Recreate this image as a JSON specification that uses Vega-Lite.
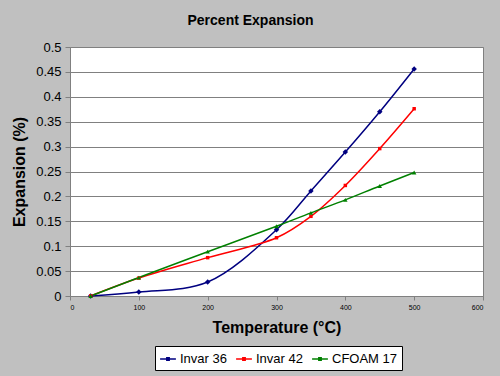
{
  "$schema": "https://vega.github.io/schema/vega-lite/v6.json",
  "width": 413,
  "height": 249,
  "autosize": {"type": "none"},
  "padding": {"left": 70, "top": 47, "right": 17, "bottom": 80},
  "background": "#c0c0c0",
  "config": {
    "font": "Liberation Sans",
    "view": {"fill": "white", "stroke": "#808080", "strokeWidth": 1}
  },
  "title": {
    "text": "Percent Expansion",
    "fontSize": 14,
    "fontWeight": "bold",
    "color": "black",
    "anchor": "middle",
    "dx": -26,
    "offset": 13
  },
  "data": {
    "values": [
      {"series": "Invar 36", "temp": 30, "exp": 0},
      {"series": "Invar 36", "temp": 100, "exp": 0.008},
      {"series": "Invar 36", "temp": 200, "exp": 0.028},
      {"series": "Invar 36", "temp": 300, "exp": 0.133},
      {"series": "Invar 36", "temp": 350, "exp": 0.211},
      {"series": "Invar 36", "temp": 400, "exp": 0.289},
      {"series": "Invar 36", "temp": 450, "exp": 0.37},
      {"series": "Invar 36", "temp": 500, "exp": 0.456},
      {"series": "Invar 42", "temp": 30, "exp": 0},
      {"series": "Invar 42", "temp": 100, "exp": 0.036},
      {"series": "Invar 42", "temp": 200, "exp": 0.077},
      {"series": "Invar 42", "temp": 300, "exp": 0.117},
      {"series": "Invar 42", "temp": 350, "exp": 0.16},
      {"series": "Invar 42", "temp": 400, "exp": 0.222},
      {"series": "Invar 42", "temp": 450, "exp": 0.296},
      {"series": "Invar 42", "temp": 500, "exp": 0.376},
      {"series": "CFOAM 17", "temp": 30, "exp": 0},
      {"series": "CFOAM 17", "temp": 100, "exp": 0.037},
      {"series": "CFOAM 17", "temp": 200, "exp": 0.089},
      {"series": "CFOAM 17", "temp": 300, "exp": 0.14},
      {"series": "CFOAM 17", "temp": 350, "exp": 0.167},
      {"series": "CFOAM 17", "temp": 400, "exp": 0.193},
      {"series": "CFOAM 17", "temp": 450, "exp": 0.221},
      {"series": "CFOAM 17", "temp": 500, "exp": 0.248}
    ]
  },
  "encoding": {
    "x": {
      "field": "temp",
      "type": "quantitative",
      "scale": {"domain": [0, 600], "nice": false},
      "axis": {
        "title": "Temperature (°C)",
        "titleFontSize": 16,
        "titleFontWeight": "bold",
        "titleColor": "black",
        "titlePadding": 9,
        "values": [0, 100, 200, 300, 400, 500, 600],
        "labelFontSize": 7,
        "labelColor": "black",
        "labelPadding": 3,
        "grid": false,
        "domainColor": "#808080",
        "tickColor": "#808080",
        "tickSize": 4
      }
    },
    "y": {
      "field": "exp",
      "type": "quantitative",
      "scale": {"domain": [0, 0.5], "nice": false},
      "axis": {
        "title": "Expansion (%)",
        "titleFontSize": 16,
        "titleFontWeight": "bold",
        "titleColor": "black",
        "titlePadding": 8,
        "values": [0, 0.05, 0.1, 0.15, 0.2, 0.25, 0.3, 0.35, 0.4, 0.45, 0.5],
        "format": ".2~f",
        "labelFontSize": 13,
        "labelColor": "black",
        "labelPadding": 4,
        "grid": true,
        "gridColor": "#808080",
        "gridWidth": 1,
        "domainColor": "#808080",
        "tickColor": "#808080",
        "tickSize": 5
      }
    }
  },
  "layer": [
    {
      "mark": {"type": "line", "interpolate": "catmull-rom", "strokeWidth": 1.5},
      "encoding": {
        "color": {
          "field": "series",
          "type": "nominal",
          "sort": ["Invar 36", "Invar 42", "CFOAM 17"],
          "scale": {"domain": ["Invar 36", "Invar 42", "CFOAM 17"], "range": ["#000080", "#ff0000", "#008000"]},
          "legend": {
            "title": null,
            "orient": "none",
            "legendX": 85,
            "legendY": 299,
            "direction": "horizontal",
            "fillColor": "white",
            "strokeColor": "black",
            "padding": 4,
            "labelFontSize": 13,
            "labelColor": "black",
            "symbolType": "M-1,0L1,0M-0.15,-0.15L0.15,-0.15L0.15,0.15L-0.15,0.15Z",
            "symbolSize": 250,
            "symbolStrokeWidth": 1.5,
            "columnPadding": 6,
            "labelOffset": 3
          }
        }
      }
    },
    {
      "transform": [{"filter": "datum.series === 'Invar 36'"}],
      "mark": {"type": "point", "filled": true, "opacity": 1, "shape": "diamond", "size": 30, "color": "#000080"}
    },
    {
      "transform": [{"filter": "datum.series === 'Invar 42'"}],
      "mark": {"type": "point", "filled": true, "opacity": 1, "shape": "square", "size": 12, "color": "#ff0000"}
    },
    {
      "transform": [{"filter": "datum.series === 'CFOAM 17'"}],
      "mark": {"type": "point", "filled": true, "opacity": 1, "shape": "triangle-up", "size": 20, "color": "#008000"}
    }
  ]
}
